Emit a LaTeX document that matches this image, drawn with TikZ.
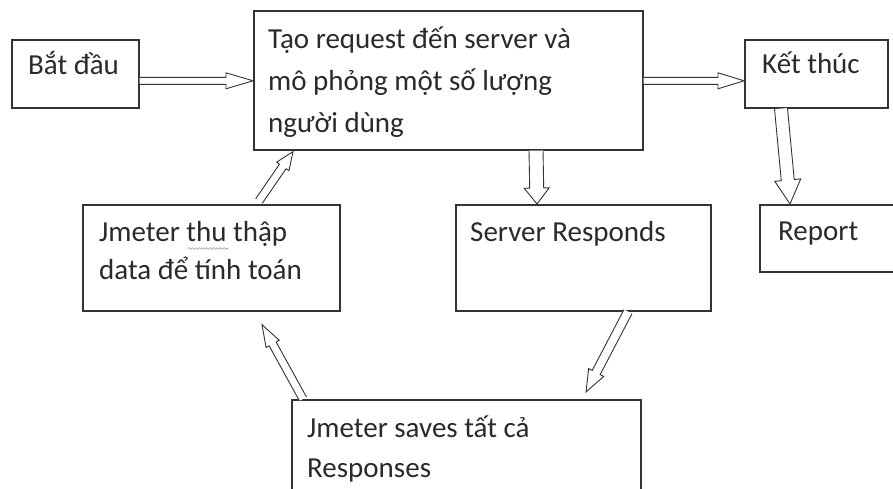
\documentclass[tikz,border=0pt]{standalone}
\usepackage{fontspec}
\setmainfont{Carlito}
\usetikzlibrary{calc,decorations.pathmorphing}
\definecolor{ink}{HTML}{333333}
\definecolor{txtc}{HTML}{2A2A2A}
\tikzset{
 box/.style={draw=ink, line width=1.6pt, rectangle, inner sep=0pt, anchor=north west, fill=white},
 txt/.style={anchor=base west, inner sep=0pt, text=txtc, font=\fontsize{29}{35}\selectfont},
 barrowline/.style={draw=ink, line width=0.9pt, line join=miter, fill=white},
 squig/.style={draw=gray!80, line width=0.6pt, decorate, decoration={snake, amplitude=0.9pt, segment length=3.5pt}}
}
\newcommand\blockarr[5]{%
  \coordinate (hb) at ($(#2)!#5!(#1)$);
  \draw[barrowline] ($(#1)!#3!90:(#2)$) -- ($(hb)!#3!90:(#2)$) -- ($(hb)!#4!90:(#2)$) -- (#2) -- ($(hb)!#4!-90:(#2)$) -- ($(hb)!#3!-90:(#2)$) -- ($(#1)!#3!-90:(#2)$);
}
\begin{document}
\begin{tikzpicture}[x=1pt,y=-1pt]
\useasboundingbox (0,0) rectangle (893,488);
\fill[white] (0,0) rectangle (893,488);
\clip (0,0) rectangle (893,488);
% boxes
\node[box, minimum width=127, minimum height=68] (start) at (11,39) {};
\node[box, minimum width=389, minimum height=139] (main) at (253,10) {};
\node[box, minimum width=143, minimum height=68] (end) at (744,39) {};
\node[box, minimum width=140, minimum height=67] (report) at (759,204) {};
\node[box, minimum width=255, minimum height=106] (srv) at (455,204) {};
\node[box, minimum width=257, minimum height=106] (thu) at (82,204) {};
\node[box, minimum width=349, minimum height=120] (saves) at (291,399) {};
% texts
\node[txt] (tstart) at (28,74) {Bắt đầu};
\node[txt] (tmain) at (268,48) {\vtop{\baselineskip=42pt\hbox{Tạo request đến server và}\hbox{mô phỏng một số lượng}\hbox{người dùng}}};
\node[txt] (tend) at (762,73) {Kết thúc};
\node[txt] (trep) at (778,240) {Report};
\node[txt] (tsrv) at (470,241) {Server Responds};
\node[txt] (tthu) at (99,241) {\vtop{\baselineskip=38pt\hbox{Jmeter thu thập}\hbox{data để tính toán}}};
\node[txt] (tsav) at (307,437) {\vtop{\baselineskip=40pt\hbox{Jmeter saves tất cả}\hbox{Responses}}};
\draw[squig] (188,248.5) -- (228,248.5);
% connector end points
\coordinate (a1s) at ($(start.east)+(0,7)$);
\coordinate (a1e) at ($(main.west |- start.east)+(0,7)$);
\coordinate (a2s) at ($(main.east |- start.east)+(0,7)$);
\coordinate (a2e) at ($(end.west)+(0,7)$);
\coordinate (a3s) at ($(main.south west)+(283,0)$);
\coordinate (a3e) at ($(srv.north west)+(82,0)$);
\coordinate (a4s) at ($(end.south west)+(37,0)$);
\coordinate (a4e) at ($(report.north west)+(31,0)$);
\coordinate (a5s) at ($(srv.south west)+(173,0)$);
\coordinate (a5e) at ($(saves.north west)+(295,-7)$);
\coordinate (a6s) at ($(saves.north west)+(12,0)$);
\coordinate (a6e) at ($(thu.south west)+(180,13)$);
\coordinate (a7s) at ($(thu.north west)+(177,-3)$);
\coordinate (a7e) at ($(main.south west)+(40,1)$);
% connectors
\blockarr{a1s}{a1e}{3.5pt}{8pt}{27pt}
\blockarr{a2s}{a2e}{3.5pt}{8pt}{26pt}
\blockarr{a3s}{a3e}{7pt}{12.5pt}{16pt}
\blockarr{a4s}{a4e}{6.5pt}{13pt}{24pt}
\blockarr{a5s}{a5e}{4.5pt}{8.5pt}{22pt}
\blockarr{a6s}{a6e}{4pt}{7.5pt}{22pt}
\blockarr{a7s}{a7e}{4pt}{7.5pt}{18pt}
\end{tikzpicture}
\end{document}
